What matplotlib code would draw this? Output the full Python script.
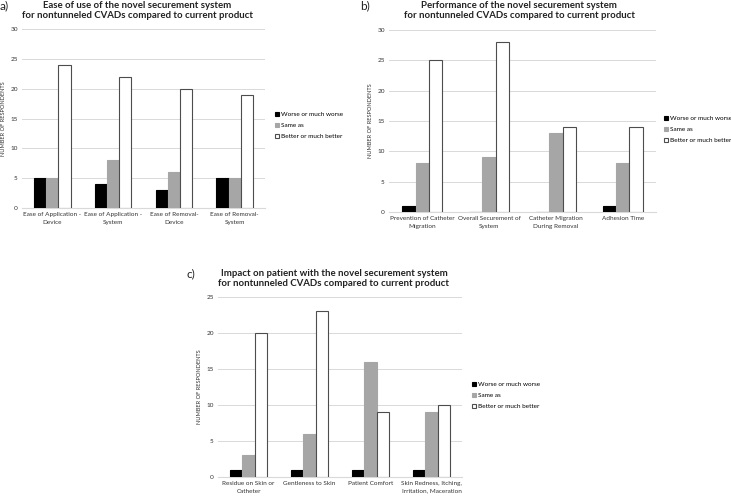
import matplotlib
matplotlib.use("Agg")
import numpy as np
import matplotlib.pyplot as plt

plt.rcParams['font.family'] = ['Lato', 'DejaVu Sans']

series = ["Worse or much worse", "Same as", "Better or much better"]
colors = ["#000000", "#a6a6a6", "#ffffff"]

cats_a = ["Ease of Application -\nDevice", "Ease of Application -\nSystem",
          "Ease of Removal-\nDevice", "Ease of Removal-\nSystem"]
worse_a = [5, 4, 3, 5]
same_a = [5, 8, 6, 5]
better_a = [24, 22, 20, 19]

cats_b = ["Prevention of Catheter\nMigration", "Overall Securement of\nSystem",
          "Catheter Migration\nDuring Removal", "Adhesion Time"]
worse_b = [1, 0, 0, 1]
same_b = [8, 9, 13, 8]
better_b = [25, 28, 14, 14]

cats_c = ["Residue on Skin or\nCatheter", "Gentleness to Skin",
          "Patient Comfort", "Skin Redness, Itching,\nIrritation, Maceration"]
worse_c = [1, 1, 1, 1]
same_c = [3, 6, 16, 9]
better_c = [20, 23, 9, 10]

W, H = 731, 496
fig = plt.figure(figsize=(W / 100, H / 100), dpi=100)


def fx(px):
    return px / W


def fy(py):
    return 1 - py / H


def panel(box, cats, vals, ymax, title, letter, letter_pos, title_pos, legend_pos):
    # box = (left, top, right, bottom) in pixels
    l, t, r, b = box
    ax = fig.add_axes([fx(l), fy(b), fx(r - l), (b - t) / H])
    x = np.arange(len(cats))
    w = 0.2
    for i, (v, c) in enumerate(zip(vals, colors)):
        ax.bar(x + (i - 1) * w, v, w, color=c, edgecolor="#4d4d4d" if i == 2 else c,
               linewidth=0.8, label=series[i], zorder=3)
    ax.set_xlim(-0.5, len(cats) - 0.5)
    ax.set_ylim(0, ymax)
    ax.set_yticks(np.arange(0, ymax + 1, 5))
    ax.yaxis.grid(True, color="#d9d9d9", linewidth=0.7, zorder=0)
    for s in ["top", "right", "left"]:
        ax.spines[s].set_visible(False)
    ax.spines["bottom"].set_color("#d9d9d9")
    ax.set_xticks(x)
    ax.set_xticklabels(cats, fontsize=4.6, color="#333333", linespacing=1.6)
    ax.tick_params(axis="both", length=0, labelsize=4.6, colors="#333333", pad=3)
    ax.set_ylabel("NUMBER OF RESPONDENTS", fontsize=4.1, color="#333333", labelpad=3)
    fig.text(fx(title_pos[0]), fy(title_pos[1]), title, ha="center", va="center",
             fontsize=6.9, fontweight="bold", color="#222222", linespacing=1.25)
    fig.text(fx(letter_pos[0]), fy(letter_pos[1]), letter, fontsize=8.5,
             color="#222222", va="center")
    ax.legend(loc="center left", bbox_to_anchor=(fx(legend_pos[0]), fy(legend_pos[1])),
              bbox_transform=fig.transFigure, frameon=False, fontsize=4.6,
              handlelength=0.6, handleheight=0.6, handletextpad=0.3,
              labelspacing=0.95, borderaxespad=0, borderpad=0)
    return ax


panel((22, 29, 265, 208), cats_a, [worse_a, same_a, better_a], 30,
      "Ease of use of the novel securement system\nfor nontunneled CVADs compared to current product",
      "a)", (0, 6), (137, 10.5), (275, 125.5))

panel((389, 30, 656, 212), cats_b, [worse_b, same_b, better_b], 30,
      "Performance of the novel securement system\nfor nontunneled CVADs compared to current product",
      "b)", (360, 6), (519, 10.5), (664, 129.5))

panel((218, 297, 462, 477), cats_c, [worse_c, same_c, better_c], 25,
      "Impact on patient with the novel securement system\nfor nontunneled CVADs compared to current product",
      "c)", (186, 274), (334, 278.5), (472, 395.5))

fig.savefig("out.png", dpi=100)
